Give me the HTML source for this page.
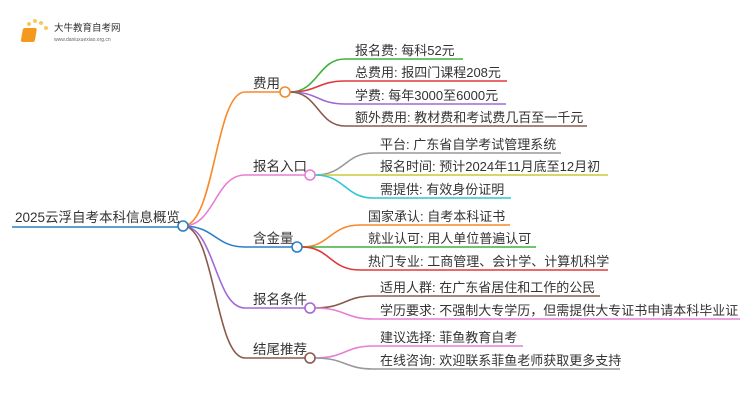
<!DOCTYPE html>
<html><head><meta charset="utf-8"><style>
body{margin:0;background:#fff;width:750px;height:410px;overflow:hidden}
svg text{font-family:"Liberation Sans","Noto Sans CJK SC",sans-serif;fill:#333}
</style></head><body>
<svg width="750" height="410" viewBox="0 0 750 410" xmlns="http://www.w3.org/2000/svg">
<g fill="none" stroke-width="1.6">
<!-- logo -->
</g>
<g>
<circle cx="25" cy="30" r="2" fill="#f8c860"/><circle cx="29" cy="24" r="2" fill="#f8c860"/><circle cx="35" cy="21" r="2" fill="#f8c860"/><circle cx="41" cy="23" r="2" fill="#f8c860"/><circle cx="46" cy="28" r="2" fill="#f8c860"/><circle cx="23" cy="37" r="1.5" fill="#f8c860"/>
<rect x="28" y="28" width="14" height="14" rx="2" fill="#f39a1e" transform="skewX(-10)"/>
<text x="54" y="31" font-size="9.5" style="fill:#333">大牛教育自考网</text>
<text x="54" y="41" font-size="5" style="fill:#666">www.daniuxuexiao.org.cn</text>
</g>
<g fill="none" stroke-width="1.6">
<!-- root -->
<path d="M12 227 H178" stroke="#2a7fc6"/>
<!-- main branches -->
<path d="M183 226 C215 226,215 92,245 92 H280" stroke="#f7892a"/>
<path d="M183 226 C215 226,215 175,245 175 H305" stroke="#e77ed5"/>
<path d="M183 226 C215 226,215 247,245 247 H292" stroke="#2a7fc6"/>
<path d="M183 226 C215 226,215 308,245 308 H305" stroke="#a069d3"/>
<path d="M183 226 C215 226,215 358,245 358 H305" stroke="#8b5a4e"/>
<!-- 费用 children -->
<path d="M290 92 C318 92,318 59,345 59 H463" stroke="#3fb23a"/>
<path d="M290 92 C318 92,318 81,345 81 H507" stroke="#e0383d"/>
<path d="M290 92 C318 92,318 104,345 104 H506" stroke="#a069d3"/>
<path d="M290 92 C318 92,318 126,345 126 H587" stroke="#8b5a4e"/>
<!-- 报名入口 children -->
<path d="M315 175 C345 175,345 153,373 153 H561" stroke="#999"/>
<path d="M315 175 H608" stroke="#c9c93a"/>
<path d="M315 175 C345 175,345 198,373 198 H511" stroke="#2ec6d6"/>
<!-- 含金量 children -->
<path d="M302 247 C330 247,330 225,360 225 H510" stroke="#f7892a"/>
<path d="M302 247 H536" stroke="#3fb23a"/>
<path d="M302 247 C330 247,330 270,360 270 H608" stroke="#e0383d"/>
<!-- 报名条件 children -->
<path d="M315 308 C345 308,345 296,373 296 H600" stroke="#8b5a4e"/>
<path d="M315 308 C345 308,345 319,373 319 H740" stroke="#e77ed5"/>
<!-- 结尾推荐 children -->
<path d="M315 358 C345 358,345 346,373 346 H523" stroke="#e77ed5"/>
<path d="M315 358 C345 358,345 369,373 369 H620" stroke="#999"/>
<!-- circles -->
<circle cx="183" cy="226" r="5" fill="#fff" stroke="#2a7fc6"/>
<circle cx="285" cy="92" r="5" fill="#fff" stroke="#f7892a"/>
<circle cx="310" cy="175" r="5" fill="#fff" stroke="#e77ed5"/>
<circle cx="297" cy="247" r="5" fill="#fff" stroke="#2a7fc6"/>
<circle cx="310" cy="308" r="5" fill="#fff" stroke="#a069d3"/>
<circle cx="310" cy="358" r="5" fill="#fff" stroke="#8b5a4e"/>
</g>
<g font-size="13.5">
<text x="15" y="222">2025云浮自考本科信息概览</text>
<text x="253" y="88">费用</text>
<text x="253" y="171">报名入口</text>
<text x="253" y="243">含金量</text>
<text x="253" y="304">报名条件</text>
<text x="253" y="354">结尾推荐</text>
</g>
<g font-size="13">
<text x="355" y="55">报名费: 每科52元</text>
<text x="355" y="77">总费用: 报四门课程208元</text>
<text x="355" y="100">学费: 每年3000至6000元</text>
<text x="355" y="122">额外费用: 教材费和考试费几百至一千元</text>
<text x="380" y="149">平台: 广东省自学考试管理系统</text>
<text x="380" y="171">报名时间: 预计2024年11月底至12月初</text>
<text x="380" y="194">需提供: 有效身份证明</text>
<text x="368" y="221">国家承认: 自考本科证书</text>
<text x="368" y="243">就业认可: 用人单位普遍认可</text>
<text x="368" y="266">热门专业: 工商管理、会计学、计算机科学</text>
<text x="380" y="292">适用人群: 在广东省居住和工作的公民</text>
<text x="380" y="315">学历要求: 不强制大专学历，但需提供大专证书申请本科毕业证</text>
<text x="380" y="342">建议选择: 菲鱼教育自考</text>
<text x="380" y="365">在线咨询: 欢迎联系菲鱼老师获取更多支持</text>
</g>
</svg>
</body></html>
